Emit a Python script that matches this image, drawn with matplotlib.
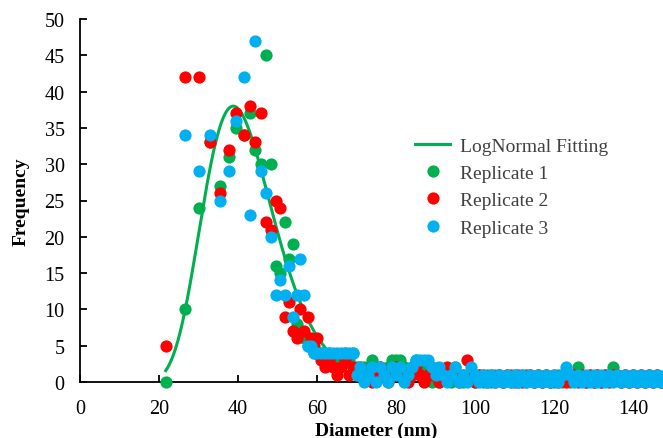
import numpy as np
import matplotlib
matplotlib.use("Agg")
import matplotlib.pyplot as plt

plt.rcParams['font.family'] = ['Liberation Serif', 'DejaVu Serif']

# ---- data ----
# peak region, diameters of bins (nm)
peak_x = [21.8, 26.6, 30.1, 33.0, 35.5, 37.6, 39.6, 41.4, 43.0, 44.4, 45.85, 47.2,
          48.4, 49.6, 50.75, 51.85, 52.9, 53.9, 54.85, 55.8, 56.7, 57.6, 58.4, 59.2]
rep1_peak = [0, 10, 24, 33, 27, 31, 35, 34, 37, 32, 30, 45,
             30, 16, 15, 22, 17, 19, 8, 7, 6, 5, 5, 4]
rep2_peak = [5, 42, 42, 33, 26, 32, 37, 34, 38, 33, 37, 22,
             21, 25, 24, 9, 11, 7, 6, 10, 7, 9, 6, 5]
rep3_peak_x = peak_x[1:]
rep3_peak = [34, 29, 34, 25, 29, 36, 42, 23, 47, 29, 26,
             20, 12, 14, 12, 16, 9, 12, 17, 12, 5, 5, 4]

# tail region: one value per nm from 60 to 148 nm
tail_x = list(range(60, 149))
rep1_tail = ("4434323434" "2121312123" "3321231210" "1011021011"
             "0101011010" "1010101010" "0101012101" "0101121010" "101010100")
rep2_tail = ("6323212312" "1211012101" "2110121011" "1012110131"
             "0110101011" "0101101010" "1010110101" "0101011010" "101010100")
rep3_tail = ("4444444444" "1201202102" "1201233332" "1210120102"
             "1010101010" "1010101010" "1012101010" "1010101010" "101010101")

# log-normal fit parameters
fit_amp = 38.0
fit_center = 38.8
fit_width = 0.23
fit_range = (21.7, 75.0)

labels = ["LogNormal Fitting", "Replicate 1", "Replicate 2", "Replicate 3"]
x_ticks = [0, 20, 40, 60, 80, 100, 120, 140]
y_ticks = [0, 5, 10, 15, 20, 25, 30, 35, 40, 45, 50]

# ---- build series ----
def digits(s):
    return [int(c) for c in s]

r1x = peak_x + tail_x
r1y = rep1_peak + digits(rep1_tail)
r2x = peak_x + tail_x
r2y = rep2_peak + digits(rep2_tail)
r3x = rep3_peak_x + tail_x
r3y = rep3_peak + digits(rep3_tail)

fx = np.linspace(fit_range[0], fit_range[1], 400)
fy = fit_amp * np.exp(-(np.log(fx / fit_center)) ** 2 / (2 * fit_width ** 2))

GREEN = "#00B050"
RED = "#FF0000"
BLUE = "#00B0F0"

fig = plt.figure(figsize=(6.63, 4.39), dpi=100)
ax = fig.add_axes([80 / 663, 1 - 383 / 439, (150 * 3.95) / 663, (383 - 20) / 439])

ms = 8.8
ax.plot(fx, fy, color=GREEN, lw=2.2, zorder=2, label=labels[0])
ax.plot(r1x, r1y, 'o', color=GREEN, ms=ms, mec='none', zorder=3, label=labels[1],
        clip_on=False)
ax.plot(r2x, r2y, 'o', color=RED, ms=ms, mec='none', zorder=4, label=labels[2],
        clip_on=False)
ax.plot(r3x, r3y, 'o', color=BLUE, ms=ms, mec='none', zorder=5, label=labels[3],
        clip_on=False)

ax.set_xlim(0, 150)
ax.set_ylim(0, 50)
ax.set_xticks(x_ticks)
ax.set_yticks(y_ticks)
ax.spines['top'].set_visible(False)
ax.spines['right'].set_visible(False)
for s in ['left', 'bottom']:
    ax.spines[s].set_linewidth(1.3)
    ax.spines[s].set_color('black')
    ax.spines[s].set_zorder(1)
ax.tick_params(axis='both', direction='in', length=5, width=1.3, labelsize=14.5,
               colors='black')
ax.tick_params(axis='y', pad=11)
ax.tick_params(axis='x', pad=12)

ax.set_xlabel("Diameter (nm)", fontsize=14, fontweight='bold', labelpad=3)
ax.set_ylabel("Frequency", fontsize=14, fontweight='bold', labelpad=11)

leg = ax.legend(loc='upper left', bbox_to_anchor=(415 / 663, 1 - 138 / 439),
                bbox_transform=fig.transFigure, frameon=False, fontsize=14,
                borderpad=0, borderaxespad=0, handlelength=1.8,
                handletextpad=0.5, labelspacing=0.5, markerscale=1.0)
for t in leg.get_texts():
    t.set_color('#404040')

fig.savefig("out.png", dpi=100)
